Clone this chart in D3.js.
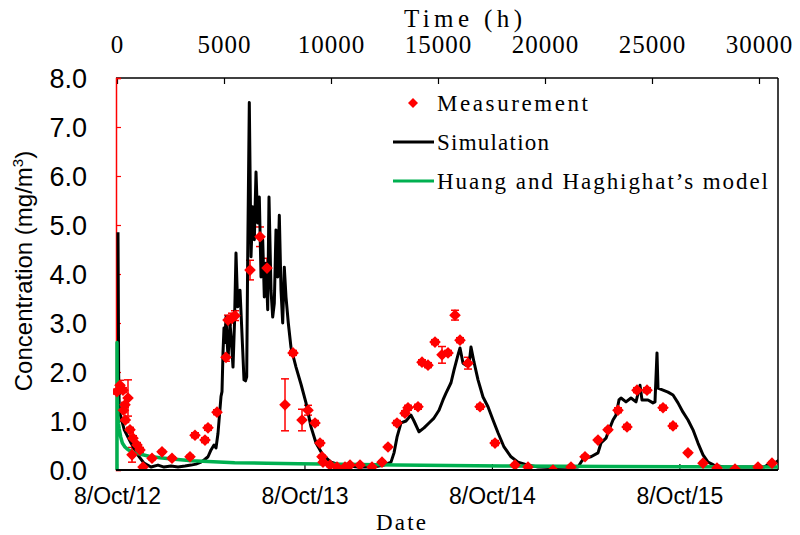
<!DOCTYPE html>
<html>
<head>
<meta charset="utf-8">
<script src="https://cdn.jsdelivr.net/npm/d3@7"></script>
<style>
  html, body { margin: 0; padding: 0; background: #fff; }
  svg { display: block; }
  .sans { font-family: "Liberation Sans", Arial, sans-serif; }
  .serif { font-family: "Liberation Serif", "Times New Roman", serif; font-weight: normal; }
</style>
</head>
<body>
<svg id="chart" width="800" height="535"></svg>
<script>
// ---------------- data ----------------
const yTicks = [0, 1, 2, 3, 4, 5, 6, 7, 8];
const topTicks = [0, 5000, 10000, 15000, 20000, 25000, 30000];
const dateTicks = ["2012-10-08", "2013-10-08", "2014-10-08", "2015-10-08"];

// Simulation (time in hours, concentration mg/m3)
const simHours = [0, 10, 30, 61, 294, 607, 921, 1215, 1542, 1869, 2150, 2477, 2804, 3131, 3411, 3645, 3879, 4066, 4206, 4346, 4486, 4579, 4673, 4720, 4813, 4860, 4907, 4953, 5000, 5047, 5093, 5140, 5187, 5234, 5304, 5374, 5444, 5514, 5593, 5654, 5701, 5771, 5827, 5888, 5958, 6014, 6061, 6136, 6215, 6295, 6370, 6449, 6528, 6603, 6683, 6762, 6837, 6916, 6996, 7056, 7150, 7229, 7304, 7383, 7463, 7538, 7617, 7696, 7771, 7851, 7958, 8084, 8318, 8552, 8785, 9019, 9253, 9566, 9954, 10421, 11201, 11963, 12430, 12757, 12898, 13038, 13225, 13458, 13692, 13832, 14066, 14300, 14533, 14767, 15000, 15187, 15327, 15561, 15701, 15888, 15982, 16122, 16262, 16402, 16495, 16636, 16823, 17056, 17290, 17524, 17757, 18038, 18365, 18692, 19159, 19627, 20234, 21496, 21636, 21776, 22103, 22430, 22570, 22804, 22944, 23131, 23271, 23411, 23505, 23738, 23972, 24206, 24393, 24486, 24766, 25000, 25093, 25187, 25234, 25467, 25701, 25935, 26168, 26402, 26636, 26869, 27103, 27337, 27570, 27850, 28318, 30187, 30514, 30748, 30888];
const simConc = [4.85, 4.0, 2.0, 1.2, 0.82, 0.55, 0.31, 0.14, 0.06, 0.10, 0.06, 0.08, 0.06, 0.08, 0.10, 0.12, 0.16, 0.22, 0.27, 0.41, 0.51, 0.45, 0.75, 1.0, 1.5, 1.6, 2.4, 2.9, 2.6, 3.12, 2.7, 2.3, 2.6, 3.0, 2.6, 2.1, 3.0, 4.43, 3.33, 3.5, 3.67, 3.0, 2.45, 1.84, 1.82, 1.9, 4.35, 7.5, 4.35, 5.37, 4.7, 6.08, 5.04, 5.57, 3.94, 4.7, 3.53, 4.22, 3.27, 5.57, 3.67, 3.12, 3.4, 4.9, 3.94, 5.2, 3.67, 3.0, 4.14, 3.53, 3.0, 2.5, 2.1, 1.75, 1.37, 0.88, 0.55, 0.31, 0.16, 0.10, 0.06, 0.06, 0.10, 0.16, 0.35, 0.67, 0.96, 1.0, 1.12, 1.0, 0.78, 0.86, 0.96, 1.06, 1.22, 1.43, 1.57, 1.78, 2.04, 2.35, 2.49, 2.18, 2.14, 2.14, 2.51, 2.2, 1.84, 1.49, 1.29, 1.02, 0.76, 0.47, 0.27, 0.16, 0.10, 0.06, 0.05, 0.06, 0.16, 0.24, 0.27, 0.35, 0.55, 0.65, 0.82, 1.02, 1.12, 1.43, 1.47, 1.39, 1.47, 1.39, 1.73, 1.43, 1.43, 1.37, 1.39, 2.39, 1.67, 1.63, 1.59, 1.53, 1.37, 1.18, 1.02, 0.82, 0.55, 0.31, 0.16, 0.10, 0.06, 0.06, 0.14, 0.16, 0.2];

// Measurements
const measHours = [0, 140, 280, 514, 374, 300, 390, 607, 748, 935, 1075, 701, 1215, 1636, 2103, 2570, 3411, 3645, 4112, 4252, 4673, 5094, 5187, 5374, 5514, 6215, 6683, 7010, 7851, 8225, 8645, 8925, 9253, 9486, 9580, 9627, 9954, 10281, 10655, 10889, 11356, 11916, 12383, 12664, 13084, 13458, 13599, 14066, 14253, 14533, 14860, 15187, 15468, 15795, 16028, 16402, 16963, 17664, 18598, 19206, 20374, 21215, 21870, 22477, 22944, 23411, 23832, 24299, 24766, 25514, 25981, 26682, 27383, 28037, 28879, 29953, 30607];
const measConc = [1.6, 1.73, 1.63, 1.47, 1.33, 1.22, 1.02, 0.82, 0.65, 0.51, 0.41, 0.31, 0.06, 0.24, 0.37, 0.24, 0.27, 0.71, 0.61, 0.86, 1.18, 2.3, 3.06, 3.1, 3.15, 4.08, 4.76, 4.12, 1.33, 2.39, 1.02, 1.22, 0.96, 0.55, 0.27, 0.16, 0.1, 0.06, 0.06, 0.1, 0.1, 0.06, 0.16, 0.47, 0.96, 1.16, 1.27, 1.29, 2.2, 2.14, 2.61, 2.35, 2.39, 3.16, 2.65, 2.18, 1.29, 0.55, 0.1, 0.06, 0.0, 0.06, 0.27, 0.61, 0.82, 1.22, 0.88, 1.63, 1.63, 1.27, 0.9, 0.35, 0.14, 0.04, 0.02, 0.06, 0.14];
const measErr = [0.05, 0.1, 0.05, 0.37, 0.05, 0.05, 0.05, 0.05, 0.05, 0.05, 0.05, 0.15, 0.03, 0.03, 0.03, 0.03, 0.03, 0.05, 0.05, 0.05, 0.05, 0.08, 0.1, 0.1, 0.1, 0.2, 0.2, 0.2, 0.53, 0.05, 0.22, 0.1, 0.05, 0.05, 0.03, 0.03, 0.03, 0.03, 0.03, 0.03, 0.03, 0.03, 0.03, 0.03, 0.05, 0.05, 0.05, 0.05, 0.05, 0.05, 0.05, 0.17, 0.05, 0.1, 0.05, 0.12, 0.05, 0.05, 0.03, 0.03, 0.03, 0.03, 0.03, 0.03, 0.03, 0.05, 0.05, 0.05, 0.05, 0.05, 0.05, 0.03, 0.03, 0.03, 0.03, 0.03, 0.03];

// Huang and Haghighat's model
const modelHours = [0, 0, 8, 20, 40, 70, 100, 170, 250, 370, 500, 700, 900, 1200, 1500, 2000, 2700, 3500, 4500, 5500, 7000, 8500, 10500, 13000, 15500, 18000, 23000, 30888];
const modelConc = [0, 2.6, 1.9, 1.45, 1.1, 0.95, 0.85, 0.68, 0.55, 0.47, 0.42, 0.37, 0.34, 0.31, 0.28, 0.25, 0.22, 0.19, 0.17, 0.15, 0.14, 0.13, 0.115, 0.10, 0.09, 0.08, 0.07, 0.06];

const legendLabels = ["Measurement", "Simulation", "Huang and Haghighat\u2019s model"];

// ---------------- layout ----------------
const svg = d3.select("#chart");
const L = 116, R = 778, T = 78, B = 470;
const hourMax = 30888;
const x = d3.scaleLinear().domain([0, hourMax]).range([117, R]);
const t0 = new Date(2012, 9, 8);
const xDate = d3.scaleTime().domain([t0, new Date(t0.getTime() + hourMax * 3600e3)]).range([117, R]);
const y = d3.scaleLinear().domain([0, 8]).range([B, T]);

svg.append("defs").append("clipPath").attr("id", "clip")
  .append("rect").attr("x", L - 3).attr("y", T - 2).attr("width", R - L + 3).attr("height", B - T + 2);

// frame: top, right (black)
svg.append("line").attr("x1", L).attr("x2", R).attr("y1", T).attr("y2", T).attr("stroke", "#000").attr("stroke-width", 1.5);
svg.append("line").attr("x1", R).attr("x2", R).attr("y1", T).attr("y2", B).attr("stroke", "#000").attr("stroke-width", 1.5);

// top axis (hours)
const topAxis = svg.append("g").attr("transform", `translate(0,${T})`)
  .call(d3.axisTop(x).tickValues(topTicks).tickSize(-6).tickFormat(d => d));
topAxis.select(".domain").remove();
topAxis.attr("font-family", null);
topAxis.selectAll(".tick line").attr("stroke", "#000").attr("stroke-width", 1.2);
topAxis.selectAll(".tick text").attr("class", "serif").attr("font-size", 25).attr("fill", "#000")
  .attr("y", -25).attr("dy", 0).attr("letter-spacing", 1);

svg.append("text").attr("class", "serif").attr("x", 404).attr("y", 27)
  .attr("font-size", 25).attr("textLength", 118).attr("lengthAdjust", "spacing").text("Time (h)");

// left axis (red)
const leftAxis = svg.append("g").attr("transform", `translate(${L},0)`)
  .call(d3.axisLeft(y).tickValues(yTicks).tickSize(-5).tickFormat(d3.format(".1f")));
leftAxis.attr("font-family", null);
leftAxis.select(".domain").attr("stroke", "#ff0000").attr("stroke-width", 1.5);
leftAxis.selectAll(".tick line").attr("stroke", "#ff0000").attr("stroke-width", 1.2);
leftAxis.selectAll(".tick text").attr("class", "sans").attr("font-size", 27).attr("fill", "#000")
  .attr("x", -29).attr("dy", "0.36em");

// bottom axis (dates)
const botAxis = svg.append("g").attr("transform", `translate(0,${B})`)
  .call(d3.axisBottom(xDate).tickValues(dateTicks.map(s => { const p = s.split("-"); return new Date(+p[0], +p[1] - 1, +p[2]); }))
    .tickSize(-6).tickFormat(d3.timeFormat("%-d/%b/%y")));
botAxis.select(".domain").remove();
botAxis.attr("font-family", null);
botAxis.selectAll(".tick line").attr("stroke", "#000").attr("stroke-width", 1.2);
botAxis.selectAll(".tick text").attr("class", "sans").attr("font-size", 23).attr("fill", "#000").attr("y", 18).attr("dy", "0.71em");

svg.append("text").attr("class", "serif").attr("x", 376).attr("y", 530)
  .attr("font-size", 23).attr("textLength", 50).attr("lengthAdjust", "spacing").text("Date");

// y label
const yl = svg.append("text").attr("class", "sans").attr("font-size", 24)
  .attr("transform", "translate(32,271) rotate(-90)").attr("text-anchor", "middle");
yl.append("tspan").text("Concentration (mg/m");
yl.append("tspan").attr("font-size", 15).attr("dy", -9).text("3");
yl.append("tspan").attr("dy", 9).text(")");

// plot group
const g = svg.append("g").attr("clip-path", "url(#clip)");

// error bars
const meas = measHours.map((h, i) => ({ h, c: measConc[i], e: measErr[i] }));
const eb = g.append("g").attr("stroke", "#ff0000").attr("stroke-width", 1.5);
meas.forEach(d => {
  const xx = x(d.h), y1 = y(d.c + d.e), y2 = y(Math.max(0, d.c - d.e));
  eb.append("line").attr("x1", xx).attr("x2", xx).attr("y1", y1).attr("y2", y2);
  eb.append("line").attr("x1", xx - 4).attr("x2", xx + 4).attr("y1", y1).attr("y2", y1);
  eb.append("line").attr("x1", xx - 4).attr("x2", xx + 4).attr("y1", y2).attr("y2", y2);
});

// simulation
const sim = simHours.map((h, i) => [h, simConc[i]]);
g.append("path").datum(sim)
  .attr("d", d3.line().x(d => x(d[0]) + 1).y(d => y(d[1])))
  .attr("fill", "none").attr("stroke", "#000").attr("stroke-width", 3).attr("stroke-linejoin", "round");

// model
const model = modelHours.map((h, i) => [h, modelConc[i]]);
g.append("path").datum(model)
  .attr("d", d3.line().x(d => x(d[0])).y(d => y(d[1])))
  .attr("fill", "none").attr("stroke", "#00b050").attr("stroke-width", 3.5).attr("stroke-linejoin", "round");

// diamonds
const diamond = d3.symbol().type(d3.symbolSquare).size(68);
g.append("g").selectAll("path").data(meas).join("path")
  .attr("d", diamond)
  .attr("transform", d => `translate(${x(d.h)},${y(d.c)}) rotate(45)`)
  .attr("fill", "#ff0000");

// bottom axis line drawn on top
svg.append("line").attr("x1", L).attr("x2", R).attr("y1", B).attr("y2", B).attr("stroke", "#000").attr("stroke-width", 2);

// legend
const lg = svg.append("g");
lg.append("path").attr("d", d3.symbol().type(d3.symbolSquare).size(50))
  .attr("transform", "translate(413,103) rotate(45)").attr("fill", "#ff0000");
lg.append("line").attr("x1", 393).attr("x2", 434).attr("y1", 142).attr("y2", 142).attr("stroke", "#000").attr("stroke-width", 3);
lg.append("line").attr("x1", 393).attr("x2", 434).attr("y1", 181).attr("y2", 181).attr("stroke", "#00b050").attr("stroke-width", 3);
const lgY = [103, 142, 181], lgW = [151, 112, 331];
legendLabels.forEach((s, i) => {
  lg.append("text").attr("class", "serif").attr("x", 437).attr("y", lgY[i] + 8)
    .attr("font-size", 23).attr("textLength", lgW[i]).attr("lengthAdjust", "spacing").text(s);
});
</script>
</body>
</html>
